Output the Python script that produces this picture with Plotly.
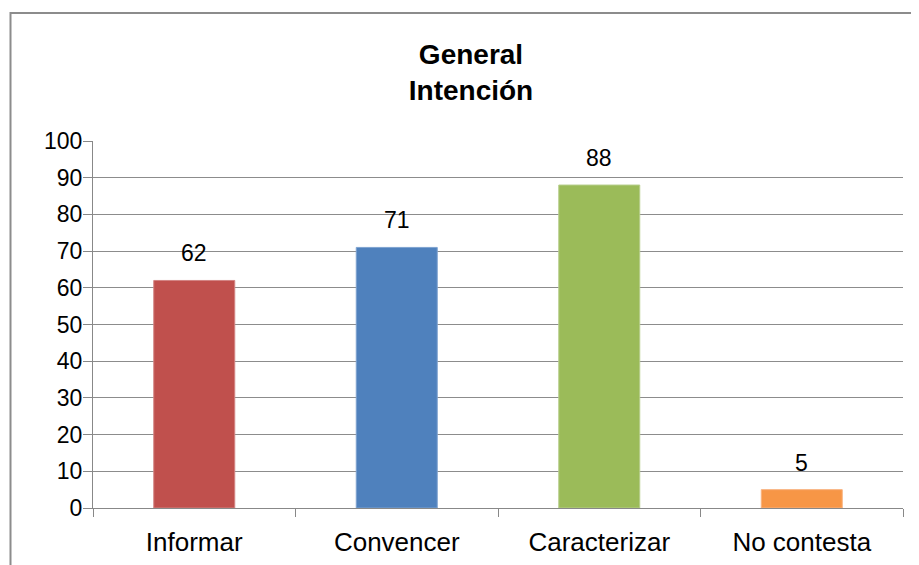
import plotly.graph_objects as go

categories = ["Informar", "Convencer", "Caracterizar", "No contesta"]
values = [62, 71, 88, 5]
colors = ["#C0504D", "#4F81BD", "#9BBB59", "#F79646"]
line_colors = ["#D38483", "#7FA3D0", "#B7CE8B", "#F9B27E"]
title_text = "General<br>Intención"

OFF = 8  # default body margin of the html page
W, H = 919, 565
# plot area in page pixels: left 93, right 903, top 141, bottom 508
L = 93 - OFF
T = 141 - OFF
R = W - (903 - OFF)
B = H - (508 - OFF)
pw = W - L - R
ph = H - T - B

fig = go.Figure()
fig.add_trace(go.Bar(
    x=categories, y=values, width=0.4,
    marker=dict(color=colors, line=dict(color=line_colors, width=1)),
    showlegend=False, hoverinfo="x+y",
))

for c, v in zip(categories, values):
    fig.add_annotation(x=c, y=v, text=str(v), showarrow=False,
                       yanchor="bottom", yshift=12,
                       font=dict(family="Liberation Sans, Arial", size=23, color="#000000"))


def px_to_paper_x(px):
    return (px - OFF - L) / pw


def py_to_paper_y(py):
    return (H - B - (py - OFF)) / ph


fig.add_shape(type="rect", xref="paper", yref="paper",
              x0=px_to_paper_x(10.5), x1=px_to_paper_x(940),
              y0=py_to_paper_y(600), y1=py_to_paper_y(13),
              line=dict(color="#8C8C8C", width=2), fillcolor="rgba(0,0,0,0)",
              layer="below")

fig.update_layout(
    width=W, height=H,
    margin=dict(l=L, r=R, t=T, b=B, pad=0),
    paper_bgcolor="white", plot_bgcolor="white",
    font=dict(family="Liberation Sans, Arial", color="#000000"),
    title=dict(text=title_text, x=(471 - OFF) / W, xanchor="center",
               y=1 - 56 / H, yanchor="middle",
               font=dict(family="Liberation Sans, Arial", size=28, color="#000000",
                         weight="bold")),
    bargap=0.6,
)
fig.update_xaxes(
    showline=True, linecolor="#888888", linewidth=1,
    ticks="outside", tickson="boundaries", ticklen=8, tickcolor="#888888",
    tickfont=dict(size=26, color="#000000"),
    showgrid=False, ticklabelstandoff=11,
)
fig.update_yaxes(
    range=[0, 100], dtick=10, tick0=0,
    showline=True, linecolor="#888888", linewidth=1,
    ticks="outside", ticklen=9, tickcolor="#888888",
    tickfont=dict(size=23, color="#000000"),
    showgrid=True, gridcolor="#8C8C8C", gridwidth=1,
    zeroline=False, ticklabelstandoff=-4,
)

fig.write_html("out.html")
